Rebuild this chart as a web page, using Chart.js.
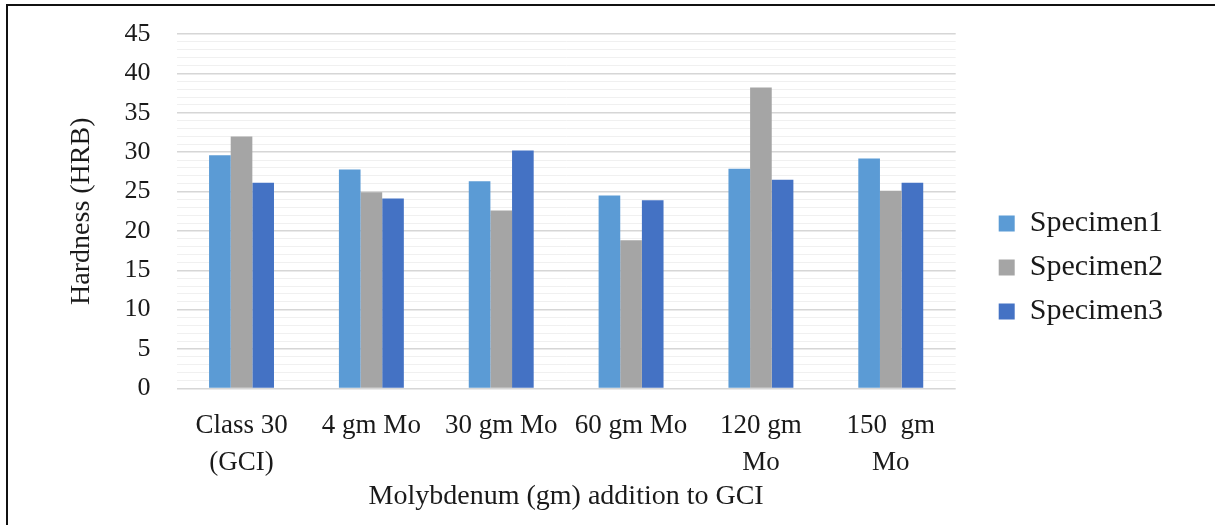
<!DOCTYPE html>
<html>
<head>
<meta charset="utf-8">
<script src="https://cdn.jsdelivr.net/npm/chart.js@4"></script>
<style>
  html, body { margin: 0; padding: 0; background: #fff; }
  #wrap { position: relative; width: 1215px; height: 525px; }
  #frame { position: absolute; left: 6px; top: 4px; right: 0; bottom: 0;
           border-left: 2px solid #111; border-top: 2px solid #111; }
  #grafica { position: absolute; left: 0; top: 0; }
</style>
</head>
<body>
<div id="wrap">
  <div id="frame"></div>
  <canvas id="grafica" width="1215" height="525"></canvas>
</div>
<script>
const categories = [["Class 30", "(GCI)"], "4 gm Mo", "30 gm Mo", "60 gm Mo", ["120 gm", "Mo"], ["150  gm", "Mo"]];
const specimen1 = [29.6, 27.8, 26.3, 24.5, 27.9, 29.2];
const specimen2 = [32.0, 24.9, 22.6, 18.8, 38.2, 25.1];
const specimen3 = [26.1, 24.1, 30.2, 23.9, 26.5, 26.1];
const seriesNames = ["Specimen1", "Specimen2", "Specimen3"];

const serif = "'Liberation Serif', 'Times New Roman', serif";
const ink = '#1a1a1a';

var context = document.getElementById('grafica').getContext('2d');
var config = {
    type: 'bar',
    data: {
        labels: categories,
        datasets: [
            { label: seriesNames[0], data: specimen1, backgroundColor: '#5B9BD5' },
            { label: seriesNames[1], data: specimen2, backgroundColor: '#A5A5A5' },
            { label: seriesNames[2], data: specimen3, backgroundColor: '#4472C4' }
        ]
    },
    options: {
        responsive: false,
        animation: false,
        devicePixelRatio: 1,
        layout: { padding: { left: 10, top: 10, right: 42, bottom: 0 } },
        datasets: { bar: { categoryPercentage: 0.5, barPercentage: 1.0 } },
        plugins: {
            tooltip: { enabled: false },
            legend: {
                position: 'right',
                labels: {
                    boxWidth: 16, boxHeight: 16, padding: 14,
                    color: ink, font: { family: serif, size: 30 }
                }
            }
        },
        scales: {
            x: {
                grid: { display: false },
                border: { display: false },
                ticks: {
                    color: ink, autoSkip: false, maxRotation: 0, padding: 11,
                    font: { family: serif, size: 27, lineHeight: 1.37 }
                },
                title: {
                    display: true, text: 'Molybdenum (gm) addition to GCI',
                    color: ink, padding: { top: -13, bottom: 12 },
                    font: { family: serif, size: 28 }
                }
            },
            y: {
                min: 0, max: 45,
                border: { display: false },
                grid: {
                    drawTicks: false,
                    color: c => (c.tick && c.tick.value % 5 === 0) ? '#d6d6d6' : '#f0f0f0',
                    lineWidth: c => (c.tick && c.tick.value % 5 === 0) ? 1.5 : 1
                },
                ticks: {
                    stepSize: 1, autoSkip: false, padding: 26, color: ink,
                    font: { family: serif, size: 26 },
                    callback: v => (v % 5 === 0 ? v : '')
                },
                title: {
                    display: true, text: 'Hardness (HRB)', color: ink,
                    padding: { top: 55, bottom: 0 },
                    font: { family: serif, size: 28 }
                },
                afterFit: s => { s.paddingTop = 34; }
            },
            gap: {
                position: 'right', display: true,
                grid: { display: false }, border: { display: false },
                ticks: { display: false },
                afterFit: s => { s.width = 29; }
            }
        }
    }
};
window.myChart = new Chart(context, config);
</script>
</body>
</html>
